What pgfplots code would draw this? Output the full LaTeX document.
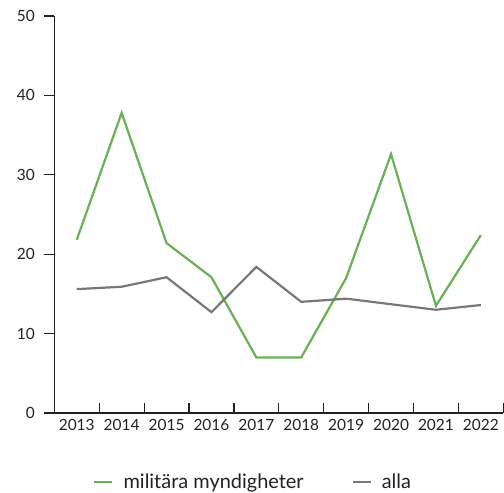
\documentclass[border=0pt]{standalone}
\usepackage{pgfplots}
\pgfplotsset{compat=1.18}
\usepackage{fontspec}
\setmainfont{Lato}
\definecolor{mil}{RGB}{106,176,84}
\definecolor{alla}{RGB}{120,120,120}
\definecolor{txt}{RGB}{34,34,34}
\begin{document}
\begin{tikzpicture}
\useasboundingbox (-54.3bp,-80bp) rectangle (449.7bp,397bp+16bp);
\begin{axis}[
    scale only axis,
    width=449bp, height=397bp,
    xmin=-0.5, xmax=9.5,
    ymin=0, ymax=50,
    axis x line*=bottom, axis y line*=left,
    axis line style={txt, line width=1.2bp},
    xtick={0,...,9},
    xticklabels={2013,2014,2015,2016,2017,2018,2019,2020,2021,2022},
    major x tick style={draw=none},
    minor xtick={-0.5,0.5,...,9.5},
    minor x tick style={txt, line width=1.2bp},
    minor tick length=10bp,
    ytick={0,10,...,50},
    ytick align=outside,
    major tick length=10bp,
    y tick style={txt, line width=1.2bp},
    xtick align=inside,
    tick label style={font=\fontsize{15.5}{18}\selectfont, text=txt},
    /pgf/number format/assume math mode=true,
    x tick label style={yshift=-3bp},
    y tick label style={xshift=-6bp},
    legend columns=2,
    legend style={draw=none, fill=none, at={(0.443,-0.174)}, anchor=center,
        font=\fontsize{20}{24}\selectfont, text=txt,
        /tikz/every even column/.append style={column sep=46bp}},
    legend image code/.code={\draw[#1] (0bp,0bp) -- (18bp,0bp); \path (26bp,0bp);},
    clip=false,
]
\addplot[mil, line width=2.2bp] coordinates {
(0,21.8) (1,37.8) (2,21.4) (3,17.1) (4,7.0) (5,7.0) (6,17.0) (7,32.6) (8,13.5) (9,22.4)};
\addlegendentry{militära myndigheter}
\addplot[alla, line width=2.2bp] coordinates {
(0,15.6) (1,15.9) (2,17.1) (3,12.7) (4,18.4) (5,14.0) (6,14.4) (7,13.7) (8,13.0) (9,13.6)};
\addlegendentry{alla}
\end{axis}
\end{tikzpicture}
\end{document}
